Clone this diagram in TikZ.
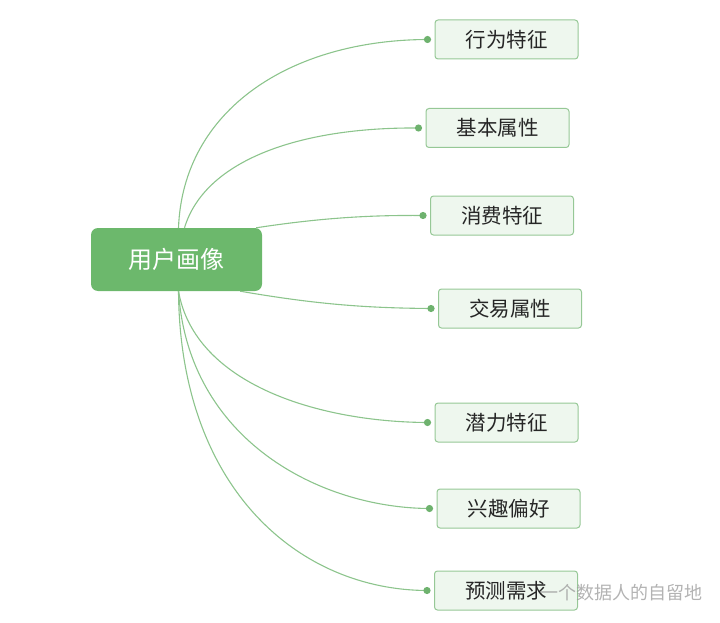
\documentclass[tikz,border=0pt]{standalone}
\usepackage{fontspec}
\setmainfont{Noto Sans CJK SC}
\definecolor{rootgreen}{RGB}{108,184,108}
\definecolor{leaffill}{RGB}{238,247,238}
\definecolor{leafline}{RGB}{150,200,150}
\definecolor{linkgreen}{RGB}{140,196,140}
\definecolor{dotgreen}{RGB}{110,178,110}
\begin{document}
\begin{tikzpicture}[x=1pt,y=-1pt,
  rootbox/.style={draw=none,fill=rootgreen,rounded corners=7pt,minimum width=171pt,minimum height=63pt,inner sep=0pt,text=white,font=\fontsize{24}{28}\selectfont},
  leafbox/.style={draw=leafline,line width=1pt,fill=leaffill,rounded corners=3pt,minimum width=143pt,minimum height=39pt,inner sep=0pt,text=black!85,font=\fontsize{20.5}{24}\selectfont},
  link/.style={draw=linkgreen,line width=1.1pt},
  enddot/.style={fill=dotgreen,draw=none}]
\useasboundingbox (0,0) rectangle (720,623);
\node[rootbox] (root) at (176.5,259.5) {用户画像};
\node[leafbox] (c1) at (506.5,39.5) {行为特征};
\node[leafbox] (c2) at (497.5,128) {基本属性};
\node[leafbox] (c3) at (502,215.5) {消费特征};
\node[leafbox] (c4) at (510,308.5) {交易属性};
\node[leafbox] (c5) at (506.5,422.5) {潜力特征};
\node[leafbox] (c6) at (508.5,508.5) {兴趣偏好};
\node[leafbox] (c7) at (506,590.5) {预测需求};
\foreach \i in {1,...,7}{\coordinate (d\i) at ([xshift=-7pt]c\i.west);}
\coordinate (s1) at ([xshift=2pt]root.north);
\coordinate (s2) at ([xshift=8pt]root.north);
\coordinate (s3) at ([xshift=-6pt]root.north east);
\coordinate (s4) at ([xshift=-22pt]root.south east);
\coordinate (s5) at ([xshift=2pt]root.south);
\path[link] (s1) .. controls (183,110) and (290,40) .. (d1);
\path[link] (s2) .. controls (205,160) and (300,127) .. (d2);
\path[link] (s3) .. controls (320,218) and (370,215) .. (d3);
\path[link] (s4) .. controls (320,305) and (370,308) .. (d4);
\path[link] (s5) .. controls (195,385) and (320,422) .. (d5);
\path[link] (s5) .. controls (188,440) and (320,508) .. (d6);
\path[link] (s5) .. controls (180,490) and (300,590) .. (d7);
\foreach \i in {1,...,7}{\fill[enddot] (d\i) circle (3.6pt);}
\node[text=black!40,opacity=0.75,font=\fontsize{18}{22}\selectfont,anchor=west,inner sep=0pt] (wm) at (540,593) {一个数据人的自留地};
\end{tikzpicture}
\end{document}
